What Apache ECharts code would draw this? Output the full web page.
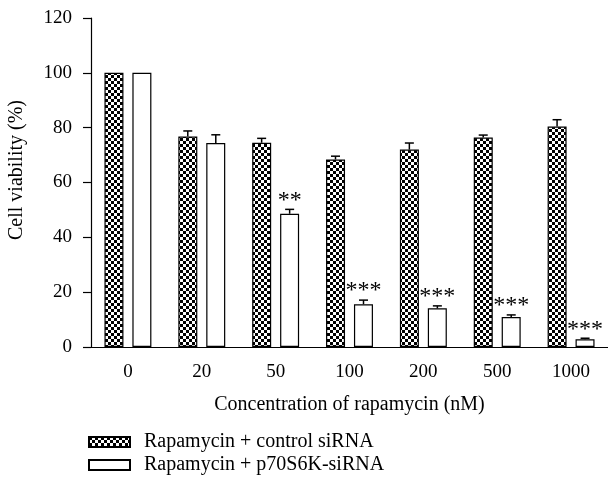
<!DOCTYPE html>
<html>
<head>
<meta charset="utf-8">
<script src="https://cdn.jsdelivr.net/npm/echarts@6/dist/echarts.min.js"></script>
<style>
  html, body { margin: 0; padding: 0; background: #fff; }
  #chart { width: 608px; height: 481px; }
</style>
</head>
<body>
<div id="chart"></div>
<script>
const categories = ["0", "20", "50", "100", "200", "500", "1000"];
const controlValues = [100, 76.8, 74.5, 68.4, 72, 76.4, 80.4];
const controlErrors = [0, 2, 1.6, 1.2, 2.4, 0.9, 2.5];
const sirnaValues = [100, 74.4, 48.6, 15.6, 14.1, 10.9, 2.8];
const sirnaErrors = [0, 3, 1.6, 1.5, 0.9, 0.8, 0.4];
const sirnaStars = ["", "", "**", "***", "***", "***", "***"];
const seriesNames = ["Rapamycin + control siRNA", "Rapamycin + p70S6K-siRNA"];

const font = "Liberation Serif";

function checker() {
  const c = document.createElement("canvas");
  c.width = 6; c.height = 6;
  const ctx = c.getContext("2d");
  ctx.fillStyle = "#fff";
  ctx.fillRect(0, 0, 6, 6);
  ctx.fillStyle = "#000";
  ctx.fillRect(0, 0, 3, 3);
  ctx.fillRect(3, 3, 3, 3);
  return c;
}

function errorBars(values, errors, offset, stars) {
  return {
    type: "custom",
    silent: true,
    z: 5,
    data: values.map((v, i) => [i, v, errors[i], stars ? stars[i] : ""]),
    renderItem(params, api) {
      const i = api.value(0), v = api.value(1), e = api.value(2);
      const base = api.coord([i, v]);
      const top = api.coord([i, v + e]);
      const x = base[0] + offset;
      const children = [];
      if (e > 0) {
        children.push({ type: "line", shape: { x1: x, y1: base[1], x2: x, y2: top[1] }, style: { stroke: "#000", lineWidth: 1.5 } });
        children.push({ type: "line", shape: { x1: x - 4.5, y1: top[1], x2: x + 4.5, y2: top[1] }, style: { stroke: "#000", lineWidth: 1.5 } });
      }
      const s = api.value(3);
      if (s) {
        children.push({
          type: "text",
          style: { text: s, x: x, y: top[1] - 9, align: "center", verticalAlign: "middle", fontFamily: font, fontSize: 24, fill: "#000" }
        });
      }
      return { type: "group", children };
    }
  };
}

const chart = echarts.init(document.getElementById("chart"));
chart.setOption({
  animation: false,
  grid: { left: 91, right: 0, top: 18, bottom: 134 },
  legend: {
    data: seriesNames,
    orient: "vertical",
    left: 88,
    top: 432,
    padding: 0,
    icon: "rect",
    itemWidth: 41,
    itemHeight: 10,
    itemGap: 3,
    textStyle: { fontFamily: font, fontSize: 20, lineHeight: 20, color: "#000", padding: [0, 0, 0, 9] }
  },
  graphic: [{
    type: "text",
    x: 17,
    y: 170,
    rotation: Math.PI / 2,
    style: { text: "Cell viability (%)", align: "center", verticalAlign: "middle", fontFamily: font, fontSize: 20, fill: "#000" }
  }],
  xAxis: {
    type: "category",
    data: categories,
    name: "Concentration of rapamycin (nM)",
    nameLocation: "middle",
    nameGap: 48,
    nameTextStyle: { fontFamily: font, fontSize: 20, color: "#000" },
    axisLine: { lineStyle: { color: "#000", width: 1.2 } },
    axisTick: { alignWithLabel: true, length: 7, lineStyle: { color: "#000", width: 1.2 } },
    axisLabel: { fontFamily: font, fontSize: 19, color: "#000", margin: 16 }
  },
  yAxis: {
    type: "value",
    min: 0,
    max: 120,
    interval: 20,
    splitLine: { show: false },
    axisLine: { show: true, lineStyle: { color: "#000", width: 1.2 } },
    axisTick: { show: true, length: 8, lineStyle: { color: "#000", width: 1.2 } },
    axisLabel: { fontFamily: font, fontSize: 19, color: "#000", margin: 19 }
  },
  series: [
    {
      name: seriesNames[0],
      type: "bar",
      data: controlValues,
      barWidth: 19,
      barGap: "47%",
      itemStyle: { color: { image: checker(), repeat: "repeat" }, borderColor: "#000", borderWidth: 1.2 }
    },
    {
      name: seriesNames[1],
      type: "bar",
      data: sirnaValues,
      barWidth: 19,
      itemStyle: { color: "#fff", borderColor: "#000", borderWidth: 1.2 }
    },
    errorBars(controlValues, controlErrors, -14),
    errorBars(sirnaValues, sirnaErrors, 14, sirnaStars)
  ]
});
</script>
</body>
</html>
